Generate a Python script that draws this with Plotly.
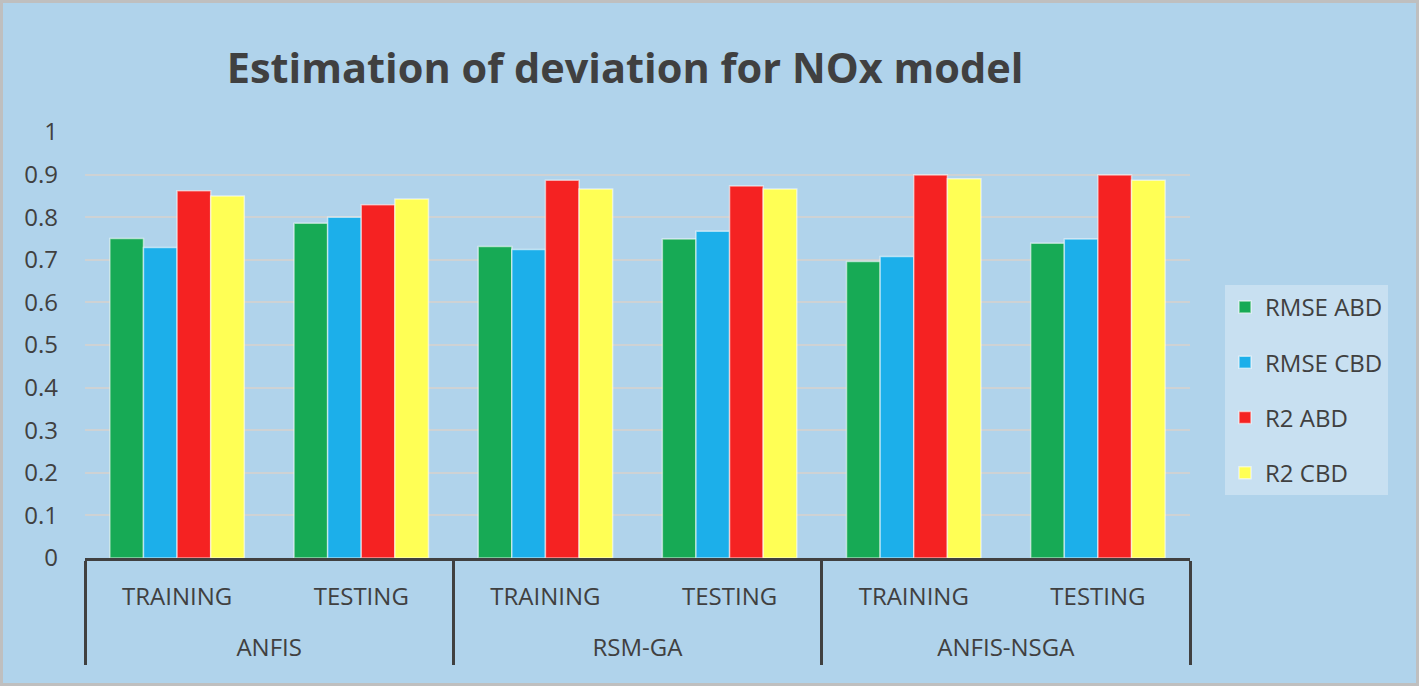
import plotly.graph_objects as go

models = ["ANFIS", "ANFIS", "RSM-GA", "RSM-GA", "ANFIS-NSGA", "ANFIS-NSGA"]
phases = ["TRAINING", "TESTING", "TRAINING", "TESTING", "TRAINING", "TESTING"]

rmse_abd = [0.750, 0.786, 0.731, 0.749, 0.696, 0.739]
rmse_cbd = [0.729, 0.800, 0.724, 0.767, 0.708, 0.749]
r2_abd = [0.862, 0.829, 0.887, 0.873, 0.899, 0.899]
r2_cbd = [0.850, 0.843, 0.866, 0.866, 0.890, 0.887]

series_names = ["RMSE ABD", "RMSE CBD", "R2 ABD", "R2 CBD"]
series_vals = [rmse_abd, rmse_cbd, r2_abd, r2_cbd]
series_colors = ["#17AA55", "#1CAFEA", "#F52222", "#FFFF55"]

W, H = 1419, 686
L, R, T, B = 85, 229, 132, 128
FONT = "Open Sans"
TXT = "#404040"

# inner labels padded with an empty second line so the outer row sits lower
phase_labels = [p + "<br> " for p in phases]

fig = go.Figure()
for name, vals, col in zip(series_names, series_vals, series_colors):
    fig.add_trace(go.Bar(
        name=name,
        x=[models, phase_labels],
        y=vals,
        marker=dict(color=col, line=dict(color="rgba(255,255,255,0.55)", width=1.5)),
        legendgroup=name,
    ))

pw = W - L - R
ph = H - T - B
fig.add_shape(type="rect", xref="paper", yref="paper",
              x0=(1.5 - L) / pw, x1=(W - 1.5 - L) / pw,
              y0=-(B - 1.5) / ph, y1=(ph + T - 1.5) / ph,
              line=dict(color="#BFBFBF", width=3), fillcolor="rgba(0,0,0,0)", layer="below")

fig.update_layout(
    width=W, height=H,
    margin=dict(l=L, r=R, t=T, b=B),
    paper_bgcolor="rgb(176,211,235)",
    plot_bgcolor="rgba(0,0,0,0)",
    barmode="group",
    bargap=0.27,
    bargroupgap=0,
    font=dict(family=FONT, color=TXT, size=22),
    title=dict(text="Estimation of deviation for NOx model",
               font=dict(family=FONT, size=41.5, color=TXT, weight="bold"),
               x=625 / W, xanchor="center", xref="container",
               y=1 - 68 / H, yanchor="middle", yref="container"),
    legend=dict(x=(1225 - L) / pw, xanchor="left", y=(H - B - 285) / ph, yanchor="top",
                bgcolor="rgba(255,255,255,0.3)", font=dict(size=24, color=TXT, family=FONT),
                tracegroupgap=21, itemwidth=30),
    showlegend=True,
)
fig.update_yaxes(range=[0, 1], dtick=0.1, tick0=0, showgrid=True,
                 gridcolor="rgba(210,210,210,0.9)", gridwidth=2,
                 showline=False, zeroline=False,
                 tickfont=dict(size=24, color=TXT, family=FONT),
                 ticklabelstandoff=26)
fig.update_xaxes(type="multicategory", showline=True, linecolor=TXT, linewidth=3,
                 showdividers=True, dividercolor=TXT, dividerwidth=3,
                 tickfont=dict(size=24, color=TXT, family=FONT),
                 ticklabelstandoff=15,
                 showgrid=False, ticks="")

fig.write_html("out.html", config={"displayModeBar": False},
               post_script="document.body.style.margin='0';")
